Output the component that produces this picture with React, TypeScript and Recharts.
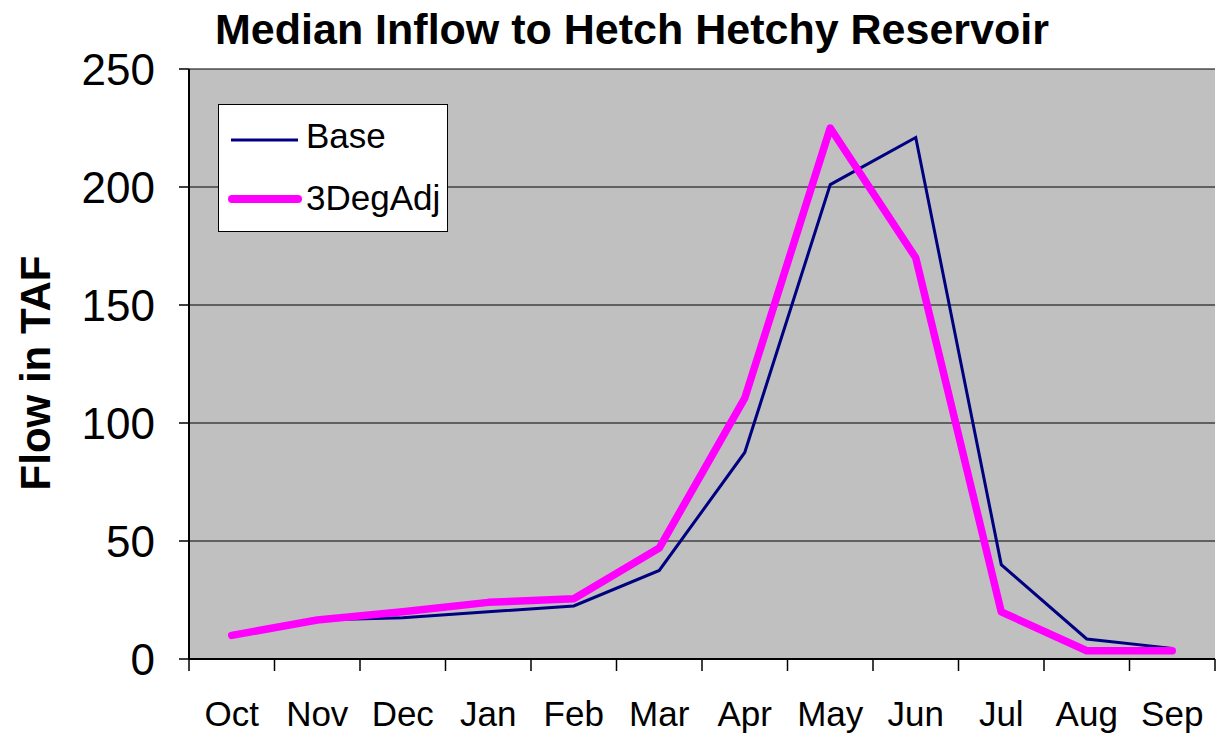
import {
  LineChart,
  Line,
  XAxis,
  YAxis,
  CartesianGrid,
  Legend,
} from "recharts";

const months = ["Oct", "Nov", "Dec", "Jan", "Feb", "Mar", "Apr", "May", "Jun", "Jul", "Aug", "Sep"];
const baseFlow = [10, 16.5, 17.5, 20, 22.5, 37.5, 87.5, 201, 221, 40, 8.5, 4.5];
const adjFlow = [10, 16.5, 20, 24, 25.5, 47, 110.5, 225, 170, 20, 3.5, 3.5];
const yTicks = [0, 50, 100, 150, 200, 250];

const data = months.map((m, i) => ({ month: m, Base: baseFlow[i], "3DegAdj": adjFlow[i] }));

const FONT = "'Liberation Sans', Arial, sans-serif";

const LegendBox = () => (
  <svg width={230} height={128} style={{ display: "block" }}>
    <rect x={0.5} y={0.5} width={229} height={127} fill="#fff" stroke="#000" strokeWidth={1} />
    <line x1={13} y1={36} x2={80} y2={36} stroke="#000080" strokeWidth={3} />
    <text x={88} y={44} fontFamily={FONT} fontSize={35} fill="#000">Base</text>
    <line x1={14} y1={95} x2={80} y2={95} stroke="#FF00FF" strokeWidth={8} strokeLinecap="round" />
    <text x={88} y={106} fontFamily={FONT} fontSize={35} fill="#000">3DegAdj</text>
  </svg>
);

const YLabel = () => (
  <text
    x={35}
    y={373}
    transform="rotate(-90 35 373)"
    textAnchor="middle"
    dominantBaseline="central"
    fontFamily={FONT}
    fontSize={42}
    fontWeight="bold"
    fill="#000"
  >
    Flow in TAF
  </text>
);

// month label plus tick marks on the band edges (Excel style)
const MonthTick = (props: any) => {
  const { x, y, payload, index, width, visibleTicksCount } = props;
  const half = payload?.offset || width / visibleTicksCount / 2;
  const last = index === visibleTicksCount - 1;
  return (
    <g>
      <line x1={x - half} y1={y} x2={x - half} y2={y + 12} stroke="#000" strokeWidth={1.5} />
      {last && <line x1={x + half} y1={y} x2={x + half} y2={y + 12} stroke="#000" strokeWidth={1.5} />}
      <text x={x} y={y + 67} textAnchor="middle" fontFamily={FONT} fontSize={35} fill="#000">
        {payload.value}
      </text>
    </g>
  );
};

export default function App() {
  return (
    <div style={{ position: "absolute", left: 0, top: 0, width: 1217, height: 740, background: "#fff" }}>
      <div
        style={{
          position: "absolute",
          left: 0,
          width: 1264,
          top: 4,
          textAlign: "center",
          fontFamily: FONT,
          fontWeight: "bold",
          fontSize: 43,
          lineHeight: "50px",
          color: "#000",
        }}
      >
        Median Inflow to Hetch Hetchy Reservoir
      </div>
      <LineChart width={1217} height={740} data={data} margin={{ top: 69, right: 2, left: 0, bottom: 0 }}>
        <CartesianGrid fill="#C0C0C0" stroke="#000" strokeWidth={1.2} vertical={false} />
        <XAxis
          dataKey="month"
          scale="band"
          height={81}
          tickLine={false}
          tickSize={0}
          tickMargin={0}
          axisLine={{ stroke: "#000", strokeWidth: 2 }}
          tick={<MonthTick />}
          interval={0}
        />
        <YAxis
          width={189}
          domain={[0, 250]}
          ticks={yTicks}
          tickSize={10}
          tickMargin={24}
          tickLine={{ stroke: "#000", strokeWidth: 1.5 }}
          axisLine={{ stroke: "#000", strokeWidth: 2 }}
          tick={{ fill: "#000", fontSize: 44, fontFamily: FONT }}
          label={{ content: () => <YLabel /> }}
        />
        <YAxis
          yAxisId="right"
          orientation="right"
          width={0}
          domain={[0, 250]}
          tick={false}
          tickLine={false}
          axisLine={{ stroke: "#808080", strokeWidth: 2 }}
        />
        <Legend
          layout="vertical"
          align="center"
          verticalAlign="middle"
          wrapperStyle={{ left: 218, top: 104, width: 230, height: 128 }}
          content={() => <LegendBox />}
        />
        <Line
          type="linear"
          dataKey="Base"
          stroke="#000080"
          strokeWidth={3}
          dot={false}
          isAnimationActive={false}
        />
        <Line
          type="linear"
          dataKey="3DegAdj"
          stroke="#FF00FF"
          strokeWidth={7.5}
          strokeLinejoin="round"
          strokeLinecap="round"
          dot={false}
          isAnimationActive={false}
        />
      </LineChart>
    </div>
  );
}
